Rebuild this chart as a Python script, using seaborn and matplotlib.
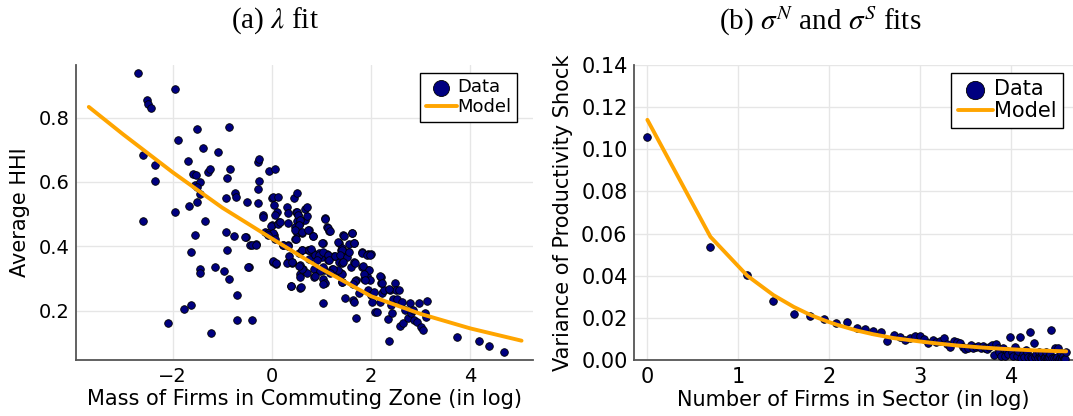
import numpy as np
import matplotlib
matplotlib.use("Agg")
import matplotlib.pyplot as plt
import seaborn as sns

# (a) commuting zones: mass of firms (log) vs average HHI
hhi_x = [-2.69, -1.95, -2.51, -2.50, -2.43, -2.60, -2.36, -2.35, -2.60, -2.10,
         -1.95, -1.90, -1.50, -1.38, -1.70, -1.60, -1.53, -1.56, -1.44, -1.50,
         -1.44, -1.50, -1.67, -1.35, -1.56, -1.63, -1.44, -1.44, -1.63, -1.78,
         -1.23, -1.08, -1.28, -1.25, -0.87, -0.85, -0.90, -0.92, -0.74, -0.72,
         -0.93, -0.76, -0.90, -1.14, -0.97, -0.87, -0.71, -0.71, -0.40, -0.53,
         -0.50, -0.44, -0.33, -0.47, -0.28, -0.26, -0.26, -0.28, -0.28, -0.17,
         -0.17, -0.14, -0.06, 0.06, 0.00, 0.03, 0.13, 0.04, 0.10, 0.00,
         0.14, 0.05, -0.07, 0.03, 0.09, 0.22, 0.32, 0.31, 0.33, 0.32,
         0.33, 0.40, 0.38, 0.45, 0.51, 0.49, 0.53, 0.50, 0.57, 0.47,
         0.50, 0.47, 0.60, 0.54, 0.60, 0.56, 0.63, 0.56, 0.57, 0.66,
         0.71, 0.74, 0.73, 0.80, 0.75, 0.85, 0.85, 0.83, 0.94, 1.01,
         1.06, 1.03, 1.11, 1.16, 1.10, 1.13, 1.04, 1.03, 1.06, 1.03,
         1.25, 1.22, 1.32, 1.35, 1.39, 1.42, 1.44, 1.35, 1.42, 1.46,
         1.53, 1.55, 1.39, 1.42, 1.47, 1.60, 1.62, 1.65, 1.65, 1.70,
         1.63, 1.65, 1.70, 1.76, 1.81, 1.81, 1.86, 1.91, 1.93, 1.94,
         1.99, 1.98, 1.94, 2.00, 2.01, 2.07, 2.12, 2.05, 2.19, 2.20,
         2.22, 2.26, 2.17, 2.33, 2.36, 2.38, 2.40, 2.43, 2.49, 2.50,
         2.56, 2.53, 2.41, 2.59, 2.64, 2.62, 2.69, 2.74, 2.78, 2.81,
         2.85, 2.87, 2.93, 2.97, 3.00, 3.04, 3.13, 3.09, 3.11, 3.72,
         4.17, 4.38, 4.67,
         0.50, 0.52, 0.57, 0.54, 0.46, 0.48, 0.60, 0.73, 0.67, 0.71,
         0.82, 0.60, 0.75, 0.78, 0.87, 0.95, 0.90, 1.03, 1.07, 1.12,
         1.17, 1.01, 1.14, 1.16, 1.27, 1.34, 1.45, 1.41, 1.37, 1.51,
         1.44, 1.61, 1.65, 1.56, 1.67, 1.81, 1.83, 1.91, 1.98, 1.96,
         1.86, 1.88, 1.67, 1.41, 1.34, 1.24, 1.17, 1.03, 0.97, 0.87,
         0.70, 0.60, 0.54, 0.40, 0.30, 0.03, 0.08, 0.35, 0.40, 0.23,
         0.33, 0.57, 0.38, 0.58, 1.03, 1.41, 1.64, 2.18, 2.21, 2.35,
         -0.01, 0.13, 0.16, 0.03, -0.08, 0.06, -0.54, -0.41, -0.32, -0.48,
         0.06]
hhi_y = [0.937, 0.889, 0.854, 0.843, 0.831, 0.684, 0.652, 0.604, 0.479, 0.163,
         0.507, 0.730, 0.763, 0.704, 0.666, 0.626, 0.623, 0.590, 0.601, 0.585,
         0.564, 0.539, 0.524, 0.478, 0.435, 0.382, 0.331, 0.316, 0.217, 0.204,
         0.132, 0.692, 0.631, 0.639, 0.771, 0.639, 0.613, 0.549, 0.566, 0.552,
         0.445, 0.433, 0.390, 0.335, 0.322, 0.298, 0.248, 0.171, 0.171, 0.428,
         0.538, 0.404, 0.406, 0.337, 0.662, 0.672, 0.603, 0.577, 0.535, 0.498,
         0.492, 0.445, 0.634, 0.639, 0.549, 0.554, 0.554, 0.528, 0.507, 0.466,
         0.476, 0.435, 0.440, 0.352, 0.344, 0.404, 0.403, 0.523, 0.504, 0.471,
         0.350, 0.352, 0.277, 0.550, 0.566, 0.507, 0.497, 0.478, 0.471, 0.459,
         0.442, 0.424, 0.442, 0.378, 0.390, 0.342, 0.331, 0.314, 0.271, 0.483,
         0.493, 0.450, 0.388, 0.383, 0.360, 0.331, 0.305, 0.431, 0.378, 0.368,
         0.487, 0.411, 0.461, 0.448, 0.376, 0.359, 0.326, 0.300, 0.285, 0.223,
         0.371, 0.331, 0.323, 0.411, 0.388, 0.396, 0.434, 0.352, 0.347, 0.368,
         0.383, 0.407, 0.316, 0.290, 0.239, 0.336, 0.440, 0.411, 0.350, 0.295,
         0.233, 0.228, 0.176, 0.254, 0.383, 0.336, 0.300, 0.308, 0.326, 0.375,
         0.375, 0.295, 0.264, 0.249, 0.228, 0.197, 0.197, 0.259, 0.306, 0.287,
         0.254, 0.264, 0.228, 0.173, 0.107, 0.264, 0.218, 0.238, 0.285, 0.264,
         0.264, 0.238, 0.192, 0.152, 0.163, 0.228, 0.202, 0.176, 0.223, 0.192,
         0.202, 0.171, 0.166, 0.223, 0.150, 0.140, 0.231, 0.192, 0.181, 0.117,
         0.107, 0.090, 0.073,
         0.507, 0.496, 0.483, 0.465, 0.452, 0.423, 0.445, 0.450, 0.517, 0.522,
         0.431, 0.390, 0.388, 0.393, 0.372, 0.372, 0.359, 0.383, 0.484, 0.458,
         0.448, 0.411, 0.372, 0.359, 0.369, 0.414, 0.431, 0.388, 0.374, 0.367,
         0.351, 0.442, 0.411, 0.383, 0.348, 0.380, 0.338, 0.374, 0.372, 0.326,
         0.313, 0.295, 0.292, 0.313, 0.326, 0.331, 0.316, 0.336, 0.324, 0.307,
         0.316, 0.331, 0.338, 0.348, 0.348, 0.355, 0.347, 0.369, 0.351, 0.403,
         0.400, 0.305, 0.277, 0.274, 0.284, 0.289, 0.284, 0.307, 0.286, 0.267,
         0.463, 0.470, 0.476, 0.442, 0.434, 0.424, 0.429, 0.403, 0.405, 0.336,
         0.496]
lam_x = [-3.69, -3.0, -2.0, -1.0, 0.0, 1.0, 2.0, 3.0, 4.0, 5.03]
lam_y = [0.833, 0.748, 0.630, 0.520, 0.424, 0.330, 0.245, 0.190, 0.145, 0.107]

# (b) sectors: number of firms vs variance of productivity shock
n_firms = list(range(1, 101))
var_shock = [0.1057, 0.0536, 0.0403, 0.0282, 0.0218, 0.0210, 0.0196, 0.0174, 0.0182, 0.0150,
             0.0148, 0.0138, 0.0132, 0.0092, 0.0117, 0.0110, 0.0094, 0.0104, 0.0112, 0.0114,
             0.0098, 0.0080, 0.0096, 0.0084, 0.0088, 0.0104, 0.0074, 0.0060, 0.0092, 0.0085,
             0.0080, 0.0062, 0.0052, 0.0058, 0.0070, 0.0055, 0.0062, 0.0068, 0.0058, 0.0065,
             0.0055, 0.0050, 0.0060, 0.0072, 0.0025, 0.0078, 0.0058, 0.0040, 0.0020, 0.0055,
             0.0020, 0.0045, 0.0030, 0.0107, 0.0040, 0.0018, 0.0060, 0.0020, 0.0045, 0.0110,
             0.0010, 0.0030, 0.0015, 0.0048, 0.0040, 0.0012, 0.0135, 0.0012, 0.0008, 0.0083,
             0.0012, 0.0030, 0.0008, 0.0040, 0.0015, 0.0010, 0.0032, 0.0008, 0.0012, 0.0038,
             0.0010, 0.0008, 0.0015, 0.0030, 0.0142, 0.0008, 0.0010, 0.0055, 0.0008, 0.0012,
             0.0055, 0.0005, 0.0010, 0.0035, 0.0008, 0.0006, 0.0020, 0.0005, 0.0004, 0.0040]
sigma_n = [1, 2, 3, 4, 5, 6, 7, 8, 10, 12, 15, 20, 25, 30, 40, 50, 60, 70, 80, 100]
sigma_fit = [0.114, 0.0585, 0.0400, 0.0308, 0.0252, 0.0214, 0.0188, 0.0168, 0.0140, 0.0122,
             0.0104, 0.0088, 0.0077, 0.0069, 0.0059, 0.0053, 0.0049, 0.0046, 0.0044, 0.0041]

sns.set_style("white")
plt.rcParams['font.family'] = ['DejaVu Sans']
plt.rcParams['mathtext.fontset'] = 'stix'
plt.rcParams['axes.labelcolor'] = 'black'
plt.rcParams['text.color'] = 'black'

fig = plt.figure(figsize=(10.73, 4.16), dpi=100)
ax1 = fig.add_axes([0.0712, 0.1346, 0.4255, 0.709])
ax2 = fig.add_axes([0.5913, 0.1346, 0.4087, 0.709])


def style_axis(ax, fs):
    ax.grid(True, color='#e6e6e6', linewidth=1.0, zorder=0)
    ax.set_axisbelow(True)
    for side in ['top', 'right']:
        ax.spines[side].set_visible(False)
    for side in ['left', 'bottom']:
        ax.spines[side].set_color('#555555')
        ax.spines[side].set_linewidth(1.3)
    ax.tick_params(direction='in', length=4, width=1, colors='black',
                   labelsize=fs, pad=5)


# --- (a) lambda fit
sns.scatterplot(x=hhi_x, y=hhi_y, ax=ax1, color='navy', edgecolor='black',
                s=30, linewidth=0.6, label='Data', zorder=3)
sns.lineplot(x=lam_x, y=lam_y, ax=ax1, color='orange', linewidth=2.8,
             label='Model', zorder=4)
ax1.set_xlim(-3.94, 5.26)
ax1.set_ylim(0.047, 0.963)
ax1.set_xticks([-2, 0, 2, 4])
ax1.set_xticklabels(['\u22122', '0', '2', '4'])
ax1.set_yticks([0.2, 0.4, 0.6, 0.8])
style_axis(ax1, 14)
ax1.set_xlabel('Mass of Firms in Commuting Zone (in log)', fontsize=15, labelpad=2)
ax1.set_ylabel('Average HHI', fontsize=15, labelpad=6)
ax1.legend(loc='upper right', bbox_to_anchor=(0.965, 0.973), fancybox=False,
           edgecolor='black', framealpha=1, fontsize=13, markerscale=2.1,
           handlelength=1.7, handletextpad=0.05, borderpad=0.3,
           labelspacing=0.1, borderaxespad=0)

# --- (b) sigma fits
sns.scatterplot(x=np.log(n_firms), y=var_shock, ax=ax2, color='navy',
                edgecolor='black', s=30, linewidth=0.6, label='Data', zorder=3)
sns.lineplot(x=np.log(sigma_n), y=sigma_fit, ax=ax2, color='orange',
             linewidth=2.8, label='Model', zorder=4)
ax2.set_xlim(-0.142, 4.68)
ax2.set_ylim(0, 0.14)
ax2.set_xticks([0, 1, 2, 3, 4])
ax2.set_yticks(np.arange(0, 0.141, 0.02))
ax2.yaxis.set_major_formatter(matplotlib.ticker.FormatStrFormatter('%.2f'))
style_axis(ax2, 15)
ax2.set_xlabel('Number of Firms in Sector (in log)', fontsize=15, labelpad=2)
ax2.set_ylabel('Variance of Productivity Shock', fontsize=15, labelpad=6)
ax2.legend(loc='upper right', bbox_to_anchor=(0.977, 0.973), fancybox=False,
           edgecolor='black', framealpha=1, fontsize=15, markerscale=2.4,
           handlelength=1.7, handletextpad=0.05, borderpad=0.3,
           labelspacing=0.1, borderaxespad=0)

fig.text(275 / 1073, 1 - 21 / 416, r'(a) $\lambda$ fit', ha='center', va='center',
         fontsize=21, family=['Liberation Serif'])
fig.text(820 / 1073, 1 - 21 / 416, r'(b) $\sigma^N$ and $\sigma^S$ fits', ha='center',
         va='center', fontsize=21, family=['Liberation Serif'])

fig.savefig('out.png', dpi=100)
